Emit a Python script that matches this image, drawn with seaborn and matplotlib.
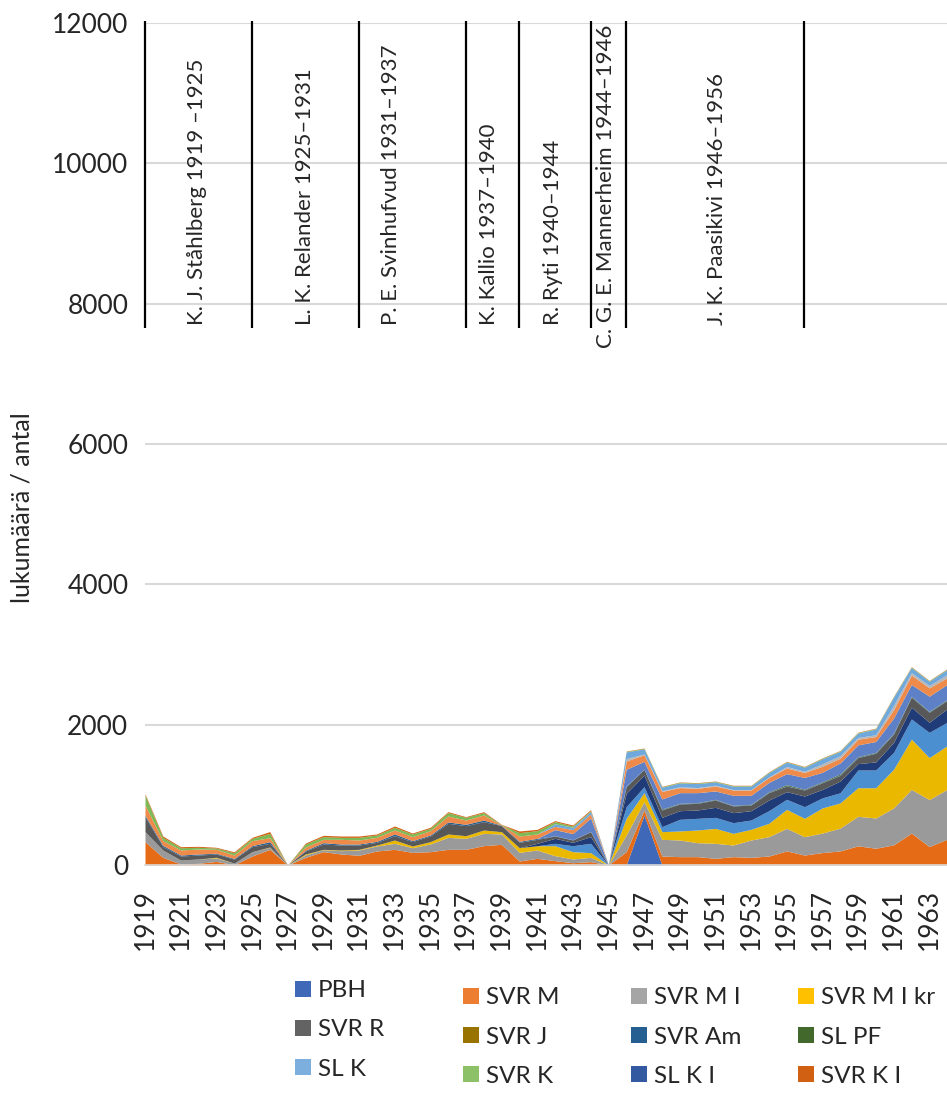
import matplotlib
matplotlib.use("Agg")
import matplotlib.pyplot as plt
import seaborn as sns
from matplotlib.patches import Patch

# years on the category axis
years = list(range(1919, 1965))

# stacked series, bottom to top
pbh = [0, 0, 0, 0, 0, 0, 0, 0, 0, 0,
       0, 0, 0, 0, 0, 0, 0, 0, 0, 0,
       0, 0, 0, 0, 0, 0, 0, 0, 712, 5,
       0, 0, 0, 0, 0, 0, 0, 0, 0, 0,
       0, 0, 0, 0, 0, 0]
svr_m = [333, 109, 14, 24, 52, 3, 128, 223, 0, 109,
         190, 157, 138, 200, 223, 180, 190, 223, 223, 276,
         295, 57, 95, 62, 33, 48, 0, 190, 72, 123,
         119, 119, 95, 119, 109, 128, 200, 142, 177, 201,
         273, 239, 287, 455, 263, 368]
svr_m_i = [142, 105, 57, 62, 48, 24, 62, 29, 0, 34,
           28, 47, 76, 71, 86, 67, 109, 171, 157, 175,
           147, 123, 119, 71, 53, 61, 0, 238, 119, 238,
           237, 199, 214, 166, 247, 276, 323, 262, 278, 325,
           421, 431, 526, 622, 670, 709]
svr_m_i_kr = [0, 0, 0, 0, 10, 0, 0, 5, 0, 14,
              5, 10, 9, 14, 47, 24, 34, 48, 38, 48,
              33, 67, 61, 142, 104, 67, 0, 237, 128, 109,
              129, 181, 213, 166, 152, 190, 270, 261, 358, 359,
              407, 431, 551, 717, 598, 622]
series5 = [0, 0, 0, 0, 0, 0, 0, 0, 0, 0,
           0, 0, 0, 0, 0, 0, 0, 0, 0, 0,
           0, 0, 0, 34, 85, 133, 0, 166, 85, 71,
           166, 166, 157, 152, 133, 180, 143, 166, 144, 144,
           253, 253, 239, 287, 359, 335]
series7 = [0, 0, 0, 0, 0, 0, 0, 0, 0, 0,
           0, 0, 0, 0, 0, 0, 0, 0, 0, 0,
           0, 0, 34, 71, 48, 95, 0, 190, 166, 133,
           123, 119, 143, 143, 133, 152, 109, 152, 120, 167,
           91, 115, 144, 168, 144, 191]
svr_r = [214, 47, 57, 56, 47, 57, 71, 52, 0, 43,
         76, 71, 62, 38, 62, 62, 80, 152, 143, 119,
         86, 76, 57, 33, 33, 71, 0, 95, 81, 104,
         95, 95, 104, 95, 81, 105, 80, 86, 95, 81,
         86, 124, 119, 143, 143, 120]
svr_am = [19, 19, 14, 15, 10, 10, 14, 24, 0, 10,
          19, 14, 14, 14, 24, 14, 14, 19, 19, 23,
          5, 14, 14, 5, 5, 5, 0, 10, 5, 5,
          5, 5, 5, 5, 5, 5, 5, 5, 5, 5,
          5, 5, 5, 5, 5, 5]
sl_pf = [0, 0, 0, 0, 0, 0, 0, 0, 0, 0,
         0, 0, 0, 0, 0, 0, 0, 0, 0, 0,
         0, 0, 0, 0, 0, 0, 0, 0, 0, 10,
         5, 5, 5, 5, 5, 8, 15, 8, 10, 15,
         8, 8, 8, 8, 8, 8]
series13 = [0, 0, 0, 0, 0, 0, 0, 0, 0, 0,
            0, 0, 0, 0, 0, 0, 0, 0, 0, 0,
            0, 0, 0, 86, 86, 190, 0, 238, 109, 143,
            152, 142, 119, 142, 128, 133, 157, 166, 134, 158,
            168, 154, 215, 168, 216, 215]
series14 = [147, 67, 72, 71, 56, 47, 72, 57, 0, 46,
            48, 67, 57, 57, 57, 57, 62, 85, 61, 72,
            5, 76, 62, 47, 57, 57, 0, 118, 95, 109,
            72, 62, 71, 76, 76, 71, 81, 71, 86, 67,
            81, 71, 120, 134, 119, 96]
series15 = [0, 0, 0, 0, 0, 0, 0, 0, 0, 0,
            0, 0, 0, 0, 0, 0, 0, 0, 0, 0,
            0, 0, 0, 0, 0, 0, 0, 35, 10, 10,
            10, 11, 10, 6, 6, 6, 21, 16, 35, 35,
            25, 25, 58, 35, 34, 45]
sl_k = [0, 0, 0, 0, 0, 0, 0, 0, 0, 0,
        0, 0, 0, 0, 0, 0, 0, 0, 0, 0,
        0, 0, 0, 38, 33, 38, 0, 95, 72, 48,
        57, 57, 48, 48, 48, 62, 61, 57, 72, 62,
        62, 82, 120, 72, 58, 71]
svr_k = [143, 47, 33, 24, 19, 33, 33, 61, 0, 43,
         38, 28, 38, 34, 38, 38, 33, 48, 38, 33,
         5, 48, 47, 29, 19, 10, 0, 8, 8, 8,
         8, 8, 8, 8, 8, 8, 8, 8, 8, 8,
         8, 8, 8, 8, 8, 8]
svr_k_i = [16, 19, 14, 14, 10, 14, 14, 25, 0, 14,
           19, 19, 19, 14, 19, 14, 15, 14, 10, 14,
           4, 24, 19, 14, 14, 14, 0, 5, 5, 5,
           5, 5, 5, 5, 5, 5, 5, 5, 5, 5,
           5, 5, 5, 5, 5, 5]

stack = [pbh, svr_m, svr_m_i, svr_m_i_kr, series5, series7, svr_r, svr_am,
         sl_pf, series13, series14, series15, sl_k, svr_k, svr_k_i]
stack_colors = ["#4068B8", "#E66B17", "#9A9A9A", "#EBB800", "#4B8FD0", "#1F3B78",
                "#585858", "#255E91", "#43682B", "#5E80C6", "#EE8A4A", "#B7B7B7",
                "#6FA8DC", "#7DBA55", "#D26012"]

# legend entries (row by row as in the original)
legend_labels = ["PBH", "SVR M", "SVR M I", "SVR M I kr",
                 "SVR R", "SVR J", "SVR Am", "SL PF",
                 "SL K", "SVR K", "SL K I", "SVR K I"]
legend_colors = ["#4068B8", "#ED7D31", "#A5A5A5", "#FFC000",
                 "#636363", "#997300", "#255E91", "#43682B",
                 "#7CAFDD", "#8CC168", "#335AA1", "#D26012"]

# presidents: term start lines and labels
term_starts = [1919, 1925, 1931, 1937, 1940, 1944, 1946, 1956]
term_labels = ["K. J. Ståhlberg 1919 –1925", "L. K. Relander 1925–1931",
               "P. E. Svinhufvud 1931–1937", "K. Kallio 1937–1940",
               "R. Ryti 1940–1944", "C. G. E. Mannerheim 1944–1946",
               "J. K. Paasikivi 1946–1956"]
label_x = [1921.9, 1927.95, 1932.8, 1938.3, 1941.9, 1944.85, 1951.1]
label_y = [7700, 7700, 7700, 7700, 7700, 7370, 7700]

sns.set_style("white")
plt.rcParams["font.family"] = ["Lato", "DejaVu Sans"]

W, H = 947, 1098
fig = plt.figure(figsize=(W / 100, H / 100), dpi=100)
ax = fig.add_axes([145 / W, 1 - 865 / H, (W - 145) / W, (865 - 23) / H])

ax.stackplot(years, *stack, colors=stack_colors, linewidth=0, zorder=2)

ax.set_xlim(1919, 1963.9)
ax.set_ylim(0, 12000)
ax.set_yticks(range(0, 12001, 2000))
ax.set_yticklabels([str(v) for v in range(0, 12001, 2000)], fontsize=19)
ax.grid(axis="y", color="#D9D9D9", linewidth=1.5, zorder=0)
ax.grid(axis="x", visible=False)
ax.set_xticks(years)
ax.set_xticklabels([str(y) if (y - 1919) % 2 == 0 else "" for y in years],
                   rotation=90, fontsize=19)
ax.tick_params(axis="x", length=7, width=1.2, color="#A6A6A6", pad=10)
ax.tick_params(axis="y", length=0, pad=12)
for side in ["top", "right", "left"]:
    ax.spines[side].set_visible(False)
ax.spines["bottom"].set_color("#D9D9D9")
ax.spines["bottom"].set_linewidth(1.2)

# president term separators and names
ax.vlines(term_starts, 7650, 12030, color="black", linewidth=1.6, zorder=3, clip_on=False)
for x, y, t in zip(label_x, label_y, term_labels):
    ax.text(x, y, t, rotation=90, ha="center", va="bottom", fontsize=16, zorder=4)

fig.text(22 / W, 1 - 508 / H, "lukumäärä / antal", rotation=90,
         ha="center", va="center", fontsize=18)

# legend in four separate columns, positioned like the original
col_left = [295, 463, 631, 798]
col_mid = [1030, 1037, 1037, 1037]
for c in range(4):
    idx = [c, c + 4, c + 8]
    handles = [Patch(facecolor=legend_colors[i], edgecolor="none") for i in idx]
    fig.legend(handles, [legend_labels[i] for i in idx], loc="center left",
               bbox_to_anchor=(col_left[c] / W, 1 - col_mid[c] / H),
               frameon=False, fontsize=17.5, borderpad=0, borderaxespad=0,
               handlelength=0.65, handleheight=0.65, handletextpad=0.3,
               labelspacing=0.75)

fig.savefig("out.png", dpi=100)
